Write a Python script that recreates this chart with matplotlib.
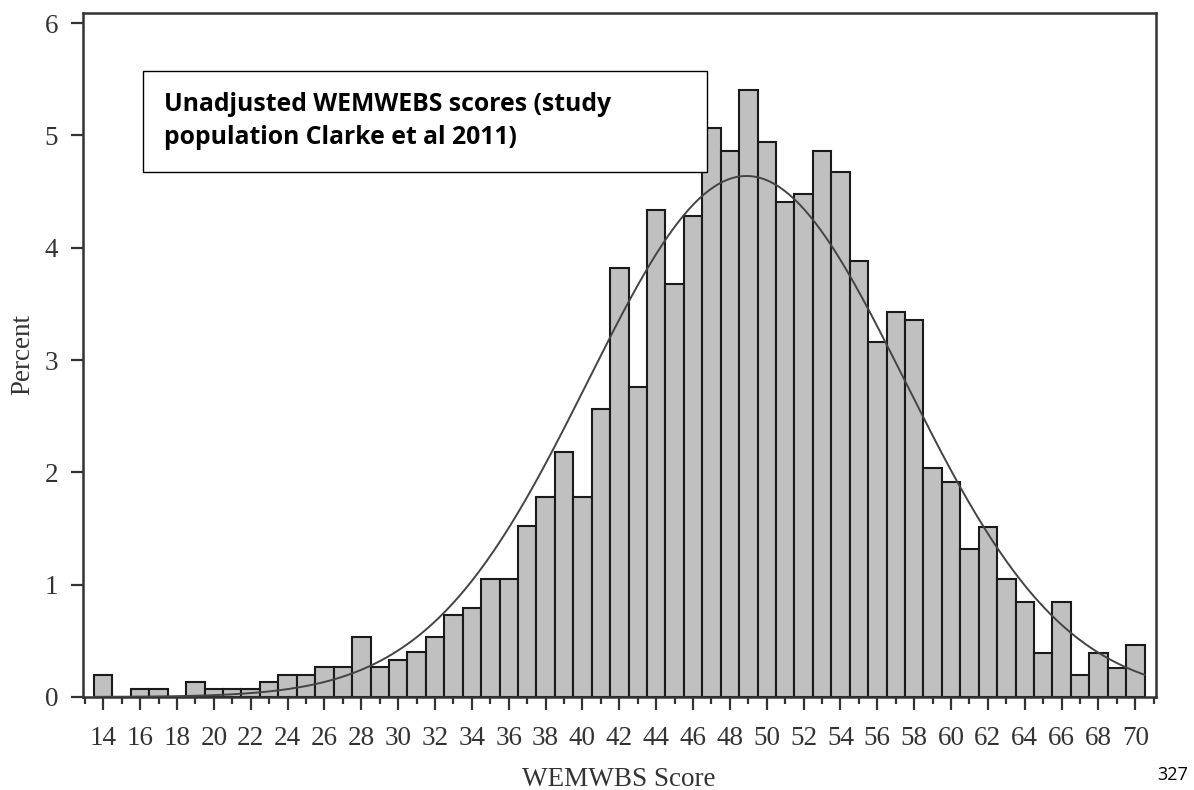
import matplotlib
matplotlib.use('Agg')
import numpy as np
import matplotlib.pyplot as plt
from matplotlib.ticker import MultipleLocator

# WEMWBS score bins and percent of study population
scores = list(range(14, 71))
percent = [0.20, 0.00, 0.07, 0.07, 0.00, 0.13, 0.07, 0.07, 0.07, 0.13,
           0.20, 0.20, 0.27, 0.27, 0.53, 0.27, 0.33, 0.40, 0.53, 0.73,
           0.79, 1.05, 1.05, 1.52, 1.78, 2.18, 1.78, 2.56, 3.82, 2.76,
           4.34, 3.68, 4.28, 5.07, 4.86, 5.40, 4.94, 4.41, 4.48, 4.86,
           4.67, 3.88, 3.16, 3.43, 3.36, 2.04, 1.91, 1.32, 1.51, 1.05,
           0.85, 0.39, 0.85, 0.20, 0.39, 0.26, 0.46]

# fitted normal curve parameters
fit_mean = 48.9
fit_sd = 8.6

x_ticks = list(range(14, 71, 2))
y_ticks = [0, 1, 2, 3, 4, 5, 6]

box_text = "Unadjusted WEMWEBS scores (study\npopulation Clarke et al 2011)"

dark = '#333333'
serif = ['Liberation Serif', 'DejaVu Serif']
W, H = 1194, 790

fig = plt.figure(figsize=(W / 100, H / 100), dpi=100)
ax = fig.add_axes([83 / W, 1 - 697 / H, (1156 - 83) / W, (697 - 13) / H])

ax.bar(scores, percent, width=1.0, color='#c0c0c0', edgecolor='#1a1a1a',
       linewidth=1.5, zorder=2)

xs = np.linspace(scores[0] - 0.5, scores[-1] + 0.5, 400)
curve = 100.0 / (fit_sd * np.sqrt(2 * np.pi)) * np.exp(-0.5 * ((xs - fit_mean) / fit_sd) ** 2)
ax.plot(xs, curve, color='#444444', linewidth=1.4, zorder=3)

ax.set_xlim(12.9, 71.12)
ax.set_ylim(0, 6.09)

ax.set_xticks(x_ticks)
ax.xaxis.set_minor_locator(MultipleLocator(1))
ax.set_yticks(y_ticks)

for s in ax.spines.values():
    s.set_color(dark)
    s.set_linewidth(1.8)

ax.tick_params(axis='both', which='major', direction='out', color=dark,
               width=1.6, length=9, labelsize=19.5, labelcolor=dark, pad=9)
ax.tick_params(axis='x', which='major', pad=12)
ax.tick_params(axis='x', which='minor', direction='out', color=dark,
               width=1.6, length=5)
for lab in ax.get_xticklabels() + ax.get_yticklabels():
    lab.set_family(serif)

# axis titles placed in figure pixels so they are not clipped
fig.text(619 / W, 1 - 779 / H, 'WEMWBS Score', family=serif, fontsize=19.5,
         color=dark, ha='center', va='center')
fig.text(23 / W, 1 - 355 / H, 'Percent', family=serif, fontsize=19.5,
         color=dark, ha='center', va='center', rotation=90)

box = plt.Rectangle((143 / W, 1 - 172 / H), (707 - 143) / W, (172 - 71) / H,
                    transform=fig.transFigure, facecolor='white', edgecolor='black',
                    linewidth=1.0, zorder=5)
fig.patches.append(box)
fig.text(164 / W, 1 - 121 / H, box_text,
         family=['Open Sans', 'DejaVu Sans'], fontweight='bold', fontsize=17.8,
         va='center', ha='left', linespacing=1.45, color='black', zorder=6)

fig.text(1173 / W, 1 - 775 / H, '327', family=['Open Sans', 'DejaVu Sans'],
         fontsize=13, ha='center', va='center', color='black')

plt.savefig('out.png', dpi=100)
